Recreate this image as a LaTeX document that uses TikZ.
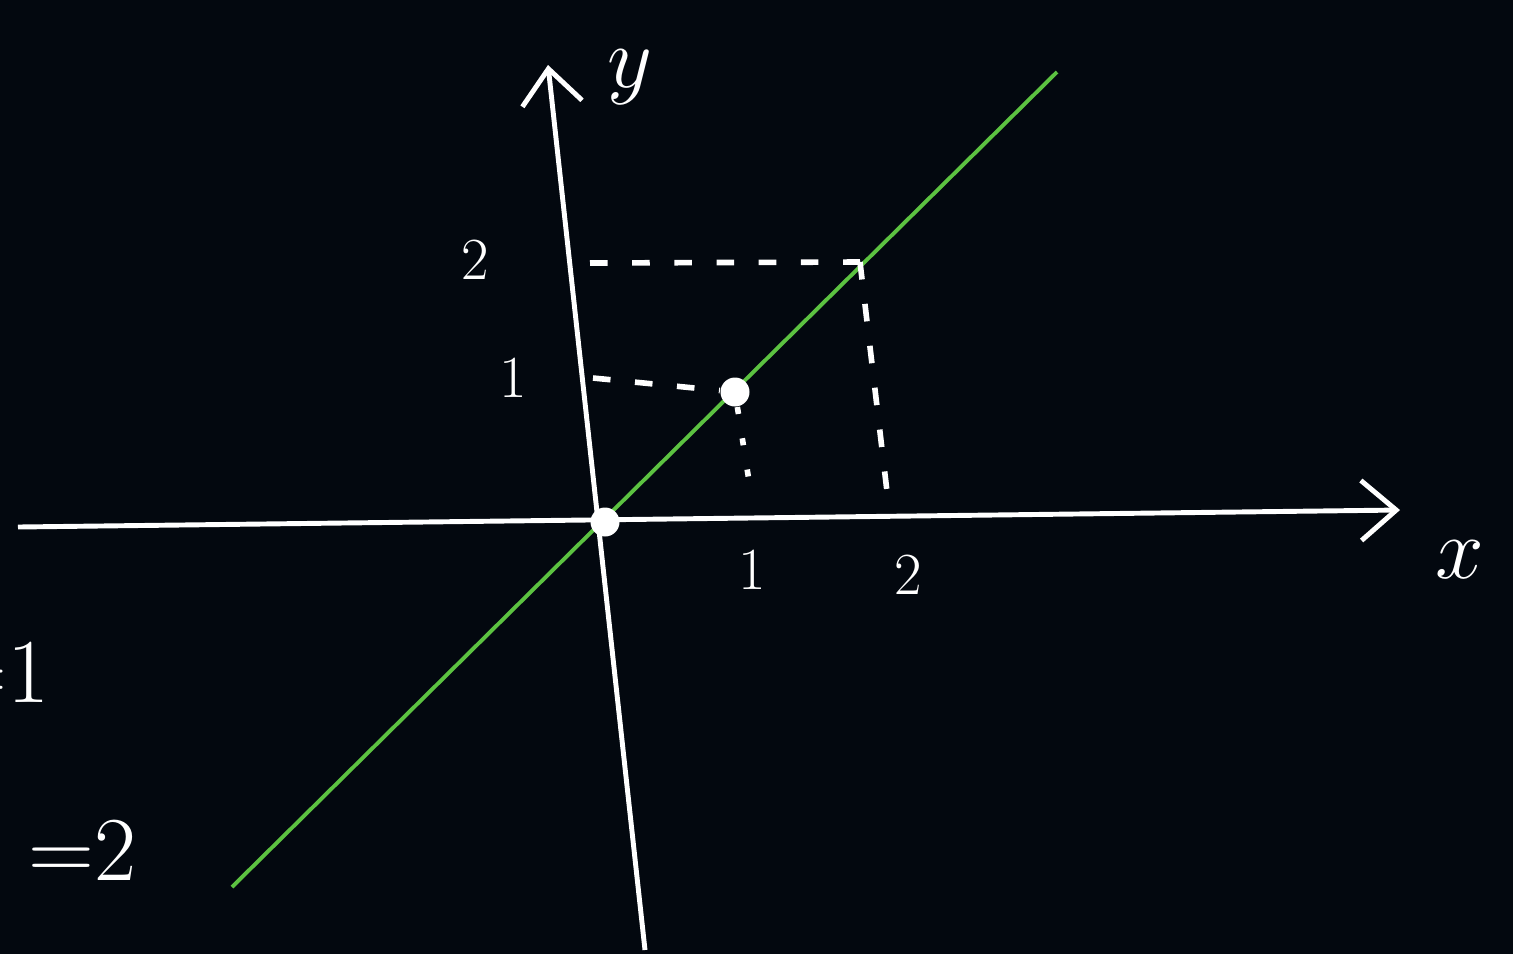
\documentclass[tikz,border=0pt]{standalone}
\usetikzlibrary{arrows.meta}
\definecolor{board}{HTML}{03080F}
\definecolor{chalkgreen}{HTML}{5CC241}
\begin{document}
\begin{tikzpicture}[white,
  axis/.style={line width=1.4pt,-{Straight Barb[length=3.5mm,width=6mm,line width=1.4pt]}},
  guide/.style={line width=1.6pt,dash pattern=on 5pt off 7pt},
  dot/.style={circle,fill=white,inner sep=0pt,minimum size=2.9mm},
  tick/.style={font=\fontsize{17}{20}\selectfont},
  lab/.style={font=\fontsize{34}{40}\selectfont},
  side/.style={font=\fontsize{26}{30}\selectfont,anchor=east,inner sep=0pt}]
\fill[board] (-6.05,-4.32) rectangle (9.08,5.22);
\useasboundingbox (-6.05,-4.32) rectangle (9.08,5.22);

\coordinate (xs) at (-5.87,-0.05);
\coordinate (xe) at (7.95,0.12);
\coordinate (ys) at (0.40,-4.28);
\coordinate (ye) at (-0.57,4.57);
\coordinate (gs) at (-3.73,-3.65);
\coordinate (ge) at (4.52,4.50);

\draw[axis] (xs)--(xe);
\draw[axis] (ys)--(ye);
\draw[chalkgreen,line width=1.1pt] (gs)--(ge);

\node[dot] (o) at (0,0) {};
\node[dot] (p) at (1.30,1.30) {};
\coordinate (q) at (2.55,2.60);

\coordinate (y1) at (-0.12,1.44);
\coordinate (y2) at (-0.15,2.59);
\coordinate (x1) at (1.47,0.22);
\coordinate (x2) at (2.83,0.22);

\draw[guide] (y2)--(q);
\draw[guide] (q)--(x2);
\draw[guide] (y1)--(p);
\draw[line width=1.6pt,dash pattern=on 2pt off 7pt] (p)--(x1);

\node[tick] (l2y) at (-1.30,2.62) {2};
\node[tick] (l1y) at (-0.92,1.44) {1};
\node[tick] (l1x) at (1.47,-0.48) {1};
\node[tick] (l2x) at (3.03,-0.53) {2};
\node[lab] (lx) at (8.55,-0.38) {$x$};
\node[lab] (ly) at (0.25,4.45) {$y$};

\node[side] (e1) at (-5.55,-1.50) {=1};
\node[side] (e2) at (-4.68,-3.28) {=2};
\end{tikzpicture}
\end{document}
